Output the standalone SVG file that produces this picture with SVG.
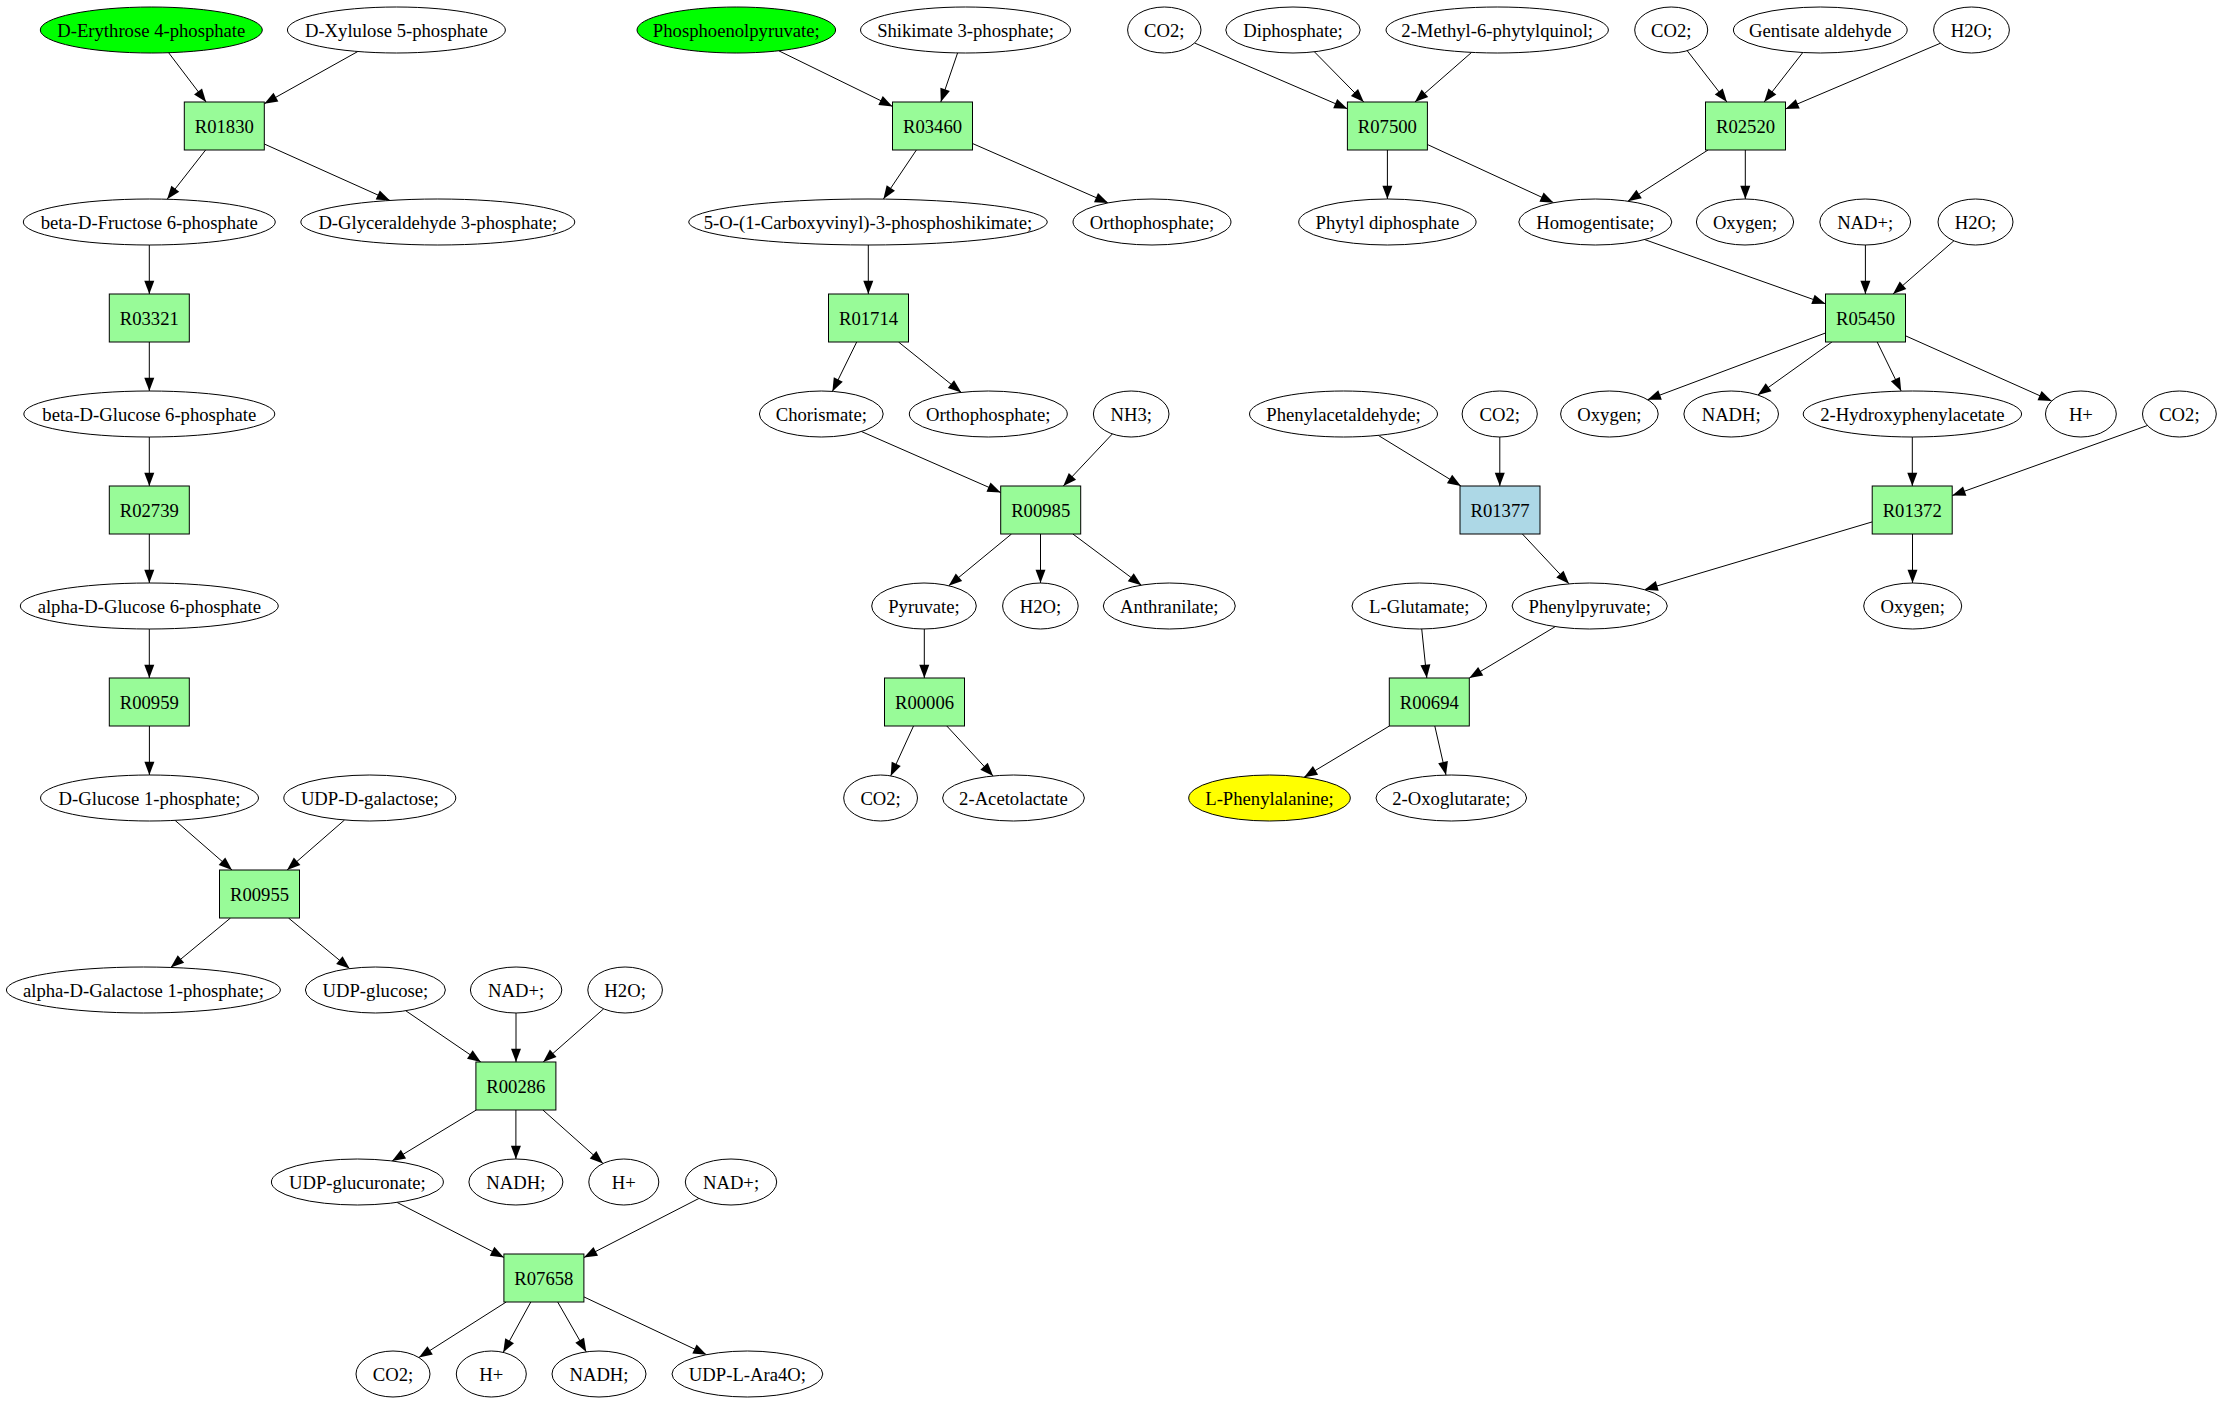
<svg xmlns="http://www.w3.org/2000/svg" width="2221" height="1403" viewBox="0 0 2221 1403">
<style>
text { font-family: "Liberation Serif", "Times New Roman", serif; font-size: 18.67px; text-anchor: middle; fill: #000; }
.m ellipse { fill: #ffffff; stroke: #000; stroke-width: 1; }
.m.start ellipse { fill: #00ff00; }
.m.goal ellipse { fill: #ffff00; }
.r rect { fill: #98fb98; stroke: #000; stroke-width: 1; }
.r.alt rect { fill: #add8e6; }
#edges line { stroke: #000; stroke-width: 1; fill: none; marker-end: url(#arr); }
</style>
<defs>
<marker id="arr" markerUnits="userSpaceOnUse" markerWidth="14" markerHeight="10" refX="13.3" refY="5" orient="auto" overflow="visible">
<path d="M0,0 L13.3,5 L0,10 Z" fill="#000"/>
</marker>
</defs>
<rect x="0" y="0" width="2221" height="1403" fill="#ffffff"/>

<g id="edges">
<line x1="168.6" y1="52.7" x2="206.1" y2="102"/>
<line x1="357.8" y1="51.5" x2="264.3" y2="103.7"/>
<line x1="205.6" y1="150" x2="167.1" y2="199.2"/>
<line x1="264.3" y1="144" x2="389.9" y2="200.4"/>
<line x1="149.3" y1="245" x2="149.3" y2="294"/>
<line x1="149.3" y1="342" x2="149.3" y2="391"/>
<line x1="149.3" y1="437" x2="149.3" y2="486"/>
<line x1="149.3" y1="534" x2="149.3" y2="583"/>
<line x1="149.3" y1="629" x2="149.3" y2="678"/>
<line x1="149.4" y1="726" x2="149.4" y2="775"/>
<line x1="175.1" y1="820.4" x2="232" y2="870"/>
<line x1="344.5" y1="820" x2="287.1" y2="870"/>
<line x1="230.5" y1="918" x2="170.7" y2="967.5"/>
<line x1="288.5" y1="918" x2="349.6" y2="968.6"/>
<line x1="405.7" y1="1010.7" x2="480.8" y2="1062"/>
<line x1="516" y1="1013" x2="516" y2="1062"/>
<line x1="603.7" y1="1008.8" x2="543.2" y2="1062"/>
<line x1="476.3" y1="1110" x2="392.1" y2="1161"/>
<line x1="515.9" y1="1110" x2="515.9" y2="1159"/>
<line x1="542.9" y1="1110" x2="603" y2="1163.5"/>
<line x1="397" y1="1202.4" x2="503.9" y2="1257.4"/>
<line x1="699" y1="1198.4" x2="583.9" y2="1257.5"/>
<line x1="506.2" y1="1302" x2="418.9" y2="1357.5"/>
<line x1="530.8" y1="1302" x2="503.2" y2="1352.4"/>
<line x1="557.7" y1="1302" x2="586.3" y2="1351.9"/>
<line x1="583.9" y1="1296.9" x2="706.5" y2="1354.7"/>

<line x1="778.8" y1="50.8" x2="892.5" y2="106.4"/>
<line x1="957.6" y1="52.9" x2="940.8" y2="102"/>
<line x1="916.4" y1="150" x2="883.4" y2="199.1"/>
<line x1="972.5" y1="143.5" x2="1108.2" y2="202.9"/>
<line x1="868.3" y1="245" x2="868.3" y2="294"/>
<line x1="856.7" y1="342" x2="832.4" y2="391.4"/>
<line x1="898.5" y1="342" x2="961.3" y2="392.4"/>
<line x1="861.4" y1="431.5" x2="1000.7" y2="492.5"/>
<line x1="1112.4" y1="433.9" x2="1063.3" y2="486"/>
<line x1="1011.5" y1="534" x2="948.7" y2="585.7"/>
<line x1="1040.5" y1="534" x2="1040.5" y2="583"/>
<line x1="1072.9" y1="534" x2="1141.4" y2="585.2"/>
<line x1="924.3" y1="629" x2="924.3" y2="678"/>
<line x1="913.5" y1="726" x2="890.7" y2="775.9"/>
<line x1="946.8" y1="726" x2="993.1" y2="776"/>

<line x1="1194.6" y1="43" x2="1347.4" y2="108.8"/>
<line x1="1314.4" y1="51.8" x2="1363.8" y2="102"/>
<line x1="1471.6" y1="52.4" x2="1414.9" y2="102"/>
<line x1="1387.4" y1="150" x2="1387.4" y2="199"/>
<line x1="1427.4" y1="144.5" x2="1553.6" y2="202.7"/>
<line x1="1687.2" y1="50.7" x2="1726.9" y2="102"/>
<line x1="1802.8" y1="52.5" x2="1764.2" y2="102"/>
<line x1="1940.5" y1="43.2" x2="1785.5" y2="109"/>
<line x1="1708" y1="150" x2="1627.9" y2="201.2"/>
<line x1="1745.3" y1="150" x2="1745.3" y2="199"/>
<line x1="1644.7" y1="239.6" x2="1825.5" y2="303.8"/>
<line x1="1865.4" y1="245" x2="1865.4" y2="294"/>
<line x1="1953.9" y1="240.8" x2="1893" y2="294"/>
<line x1="1825.5" y1="333" x2="1647.6" y2="399.7"/>
<line x1="1831.9" y1="342" x2="1757.8" y2="395"/>
<line x1="1877.2" y1="342" x2="1901.2" y2="391.1"/>
<line x1="1905.5" y1="335.8" x2="2051.7" y2="401"/>
<line x1="1378.3" y1="435.4" x2="1460.9" y2="486"/>
<line x1="1499.8" y1="437" x2="1499.8" y2="486"/>
<line x1="1912.3" y1="437" x2="1912.3" y2="486"/>
<line x1="2147.4" y1="425.5" x2="1952.2" y2="495.6"/>
<line x1="1522.4" y1="534" x2="1569" y2="583.8"/>
<line x1="1872.2" y1="521.9" x2="1644.5" y2="589.7"/>
<line x1="1912.5" y1="534" x2="1912.5" y2="583"/>
<line x1="1421.7" y1="628.7" x2="1426.8" y2="678"/>
<line x1="1555.3" y1="626.6" x2="1469.3" y2="678.1"/>
<line x1="1389.4" y1="726" x2="1304.1" y2="777.2"/>
<line x1="1434.8" y1="726" x2="1446" y2="775.1"/>
</g>

<g id="n_D_Erythrose_4_phosphate" class="m start"><ellipse cx="151.3" cy="30" rx="111" ry="23"/><text x="151.3" y="36.5">D-Erythrose 4-phosphate</text></g>
<g id="n_D_Xylulose_5_phosphate" class="m"><ellipse cx="396.4" cy="30" rx="109" ry="23"/><text x="396.4" y="36.5">D-Xylulose 5-phosphate</text></g>
<g id="n_R01830" class="r"><rect x="184.3" y="102" width="80" height="48"/><text x="224.3" y="132.5">R01830</text></g>
<g id="n_beta_D_Fructose_6_phosphate" class="m"><ellipse cx="149.3" cy="222" rx="126" ry="23"/><text x="149.3" y="228.5">beta-D-Fructose 6-phosphate</text></g>
<g id="n_D_Glyceraldehyde_3_phosphate" class="m"><ellipse cx="437.8" cy="222" rx="137" ry="23"/><text x="437.8" y="228.5">D-Glyceraldehyde 3-phosphate;</text></g>
<g id="n_R03321" class="r"><rect x="109.3" y="294" width="80" height="48"/><text x="149.3" y="324.5">R03321</text></g>
<g id="n_beta_D_Glucose_6_phosphate" class="m"><ellipse cx="149.3" cy="414" rx="125.5" ry="23"/><text x="149.3" y="420.5">beta-D-Glucose 6-phosphate</text></g>
<g id="n_R02739" class="r"><rect x="109.3" y="486" width="80" height="48"/><text x="149.3" y="516.5">R02739</text></g>
<g id="n_alpha_D_Glucose_6_phosphate" class="m"><ellipse cx="149.3" cy="606" rx="129" ry="23"/><text x="149.3" y="612.5">alpha-D-Glucose 6-phosphate</text></g>
<g id="n_R00959" class="r"><rect x="109.3" y="678" width="80" height="48"/><text x="149.3" y="708.5">R00959</text></g>
<g id="n_D_Glucose_1_phosphate" class="m"><ellipse cx="149.5" cy="798" rx="109" ry="23"/><text x="149.5" y="804.5">D-Glucose 1-phosphate;</text></g>
<g id="n_UDP_D_galactose" class="m"><ellipse cx="369.8" cy="798" rx="86" ry="23"/><text x="369.8" y="804.5">UDP-D-galactose;</text></g>
<g id="n_R00955" class="r"><rect x="219.5" y="870" width="80" height="48"/><text x="259.5" y="900.5">R00955</text></g>
<g id="n_alpha_D_Galactose_1_phosphate" class="m"><ellipse cx="143.4" cy="990" rx="137" ry="23"/><text x="143.4" y="996.5">alpha-D-Galactose 1-phosphate;</text></g>
<g id="n_UDP_glucose" class="m"><ellipse cx="375.4" cy="990" rx="70" ry="23"/><text x="375.4" y="996.5">UDP-glucose;</text></g>
<g id="n_NADp_1" class="m"><ellipse cx="516.1" cy="990" rx="45.7" ry="23"/><text x="516.1" y="996.5">NAD+;</text></g>
<g id="n_H2O_1" class="m"><ellipse cx="625.1" cy="990" rx="37.3" ry="23"/><text x="625.1" y="996.5">H2O;</text></g>
<g id="n_R00286" class="r"><rect x="475.9" y="1062" width="80" height="48"/><text x="515.9" y="1092.5">R00286</text></g>
<g id="n_UDP_glucuronate" class="m"><ellipse cx="357.4" cy="1182" rx="86" ry="23"/><text x="357.4" y="1188.5">UDP-glucuronate;</text></g>
<g id="n_NADH_1" class="m"><ellipse cx="515.9" cy="1182" rx="47" ry="23"/><text x="515.9" y="1188.5">NADH;</text></g>
<g id="n_Hp_1" class="m"><ellipse cx="623.8" cy="1182" rx="35" ry="23"/><text x="623.8" y="1188.5">H+</text></g>
<g id="n_NADp_2" class="m"><ellipse cx="731" cy="1182" rx="45.7" ry="23"/><text x="731" y="1188.5">NAD+;</text></g>
<g id="n_R07658" class="r"><rect x="503.9" y="1254" width="80" height="48"/><text x="543.9" y="1284.5">R07658</text></g>
<g id="n_CO2_1" class="m"><ellipse cx="393" cy="1374" rx="37" ry="23"/><text x="393" y="1380.5">CO2;</text></g>
<g id="n_Hp_2" class="m"><ellipse cx="491.3" cy="1374" rx="35" ry="23"/><text x="491.3" y="1380.5">H+</text></g>
<g id="n_NADH_2" class="m"><ellipse cx="599" cy="1374" rx="47" ry="23"/><text x="599" y="1380.5">NADH;</text></g>
<g id="n_UDP_L_Ara4O" class="m"><ellipse cx="747.4" cy="1374" rx="75.4" ry="23"/><text x="747.4" y="1380.5">UDP-L-Ara4O;</text></g>

<g id="n_Phosphoenolpyruvate" class="m start"><ellipse cx="736.3" cy="30" rx="99.3" ry="23"/><text x="736.3" y="36.5">Phosphoenolpyruvate;</text></g>
<g id="n_Shikimate_3_phosphate" class="m"><ellipse cx="965.5" cy="30" rx="105" ry="23"/><text x="965.5" y="36.5">Shikimate 3-phosphate;</text></g>
<g id="n_R03460" class="r"><rect x="892.5" y="102" width="80" height="48"/><text x="932.5" y="132.5">R03460</text></g>
<g id="n_5_O_1_Carboxyvinyl_3_phosphoshikimate" class="m"><ellipse cx="868" cy="222" rx="179.3" ry="23"/><text x="868" y="228.5">5-O-(1-Carboxyvinyl)-3-phosphoshikimate;</text></g>
<g id="n_Orthophosphate_1" class="m"><ellipse cx="1152" cy="222" rx="79" ry="23"/><text x="1152" y="228.5">Orthophosphate;</text></g>
<g id="n_R01714" class="r"><rect x="828.5" y="294" width="80" height="48"/><text x="868.5" y="324.5">R01714</text></g>
<g id="n_Chorismate" class="m"><ellipse cx="821.3" cy="414" rx="61.9" ry="23"/><text x="821.3" y="420.5">Chorismate;</text></g>
<g id="n_Orthophosphate_2" class="m"><ellipse cx="988.3" cy="414" rx="79" ry="23"/><text x="988.3" y="420.5">Orthophosphate;</text></g>
<g id="n_NH3" class="m"><ellipse cx="1131.2" cy="414" rx="37.8" ry="23"/><text x="1131.2" y="420.5">NH3;</text></g>
<g id="n_R00985" class="r"><rect x="1000.7" y="486" width="80" height="48"/><text x="1040.7" y="516.5">R00985</text></g>
<g id="n_Pyruvate" class="m"><ellipse cx="924" cy="606" rx="52.3" ry="23"/><text x="924" y="612.5">Pyruvate;</text></g>
<g id="n_H2O_2" class="m"><ellipse cx="1040.4" cy="606" rx="37.8" ry="23"/><text x="1040.4" y="612.5">H2O;</text></g>
<g id="n_Anthranilate" class="m"><ellipse cx="1169.3" cy="606" rx="66" ry="23"/><text x="1169.3" y="612.5">Anthranilate;</text></g>
<g id="n_R00006" class="r"><rect x="884.5" y="678" width="80" height="48"/><text x="924.5" y="708.5">R00006</text></g>
<g id="n_CO2_2" class="m"><ellipse cx="880.6" cy="798" rx="36.9" ry="23"/><text x="880.6" y="804.5">CO2;</text></g>
<g id="n_2_Acetolactate" class="m"><ellipse cx="1013.5" cy="798" rx="70.9" ry="23"/><text x="1013.5" y="804.5">2-Acetolactate</text></g>

<g id="n_CO2_3" class="m"><ellipse cx="1164.3" cy="30" rx="36.7" ry="23"/><text x="1164.3" y="36.5">CO2;</text></g>
<g id="n_Diphosphate" class="m"><ellipse cx="1293" cy="30" rx="67.2" ry="23"/><text x="1293" y="36.5">Diphosphate;</text></g>
<g id="n_2_Methyl_6_phytylquinol" class="m"><ellipse cx="1497.2" cy="30" rx="111.2" ry="23"/><text x="1497.2" y="36.5">2-Methyl-6-phytylquinol;</text></g>
<g id="n_CO2_4" class="m"><ellipse cx="1671.2" cy="30" rx="36.5" ry="23"/><text x="1671.2" y="36.5">CO2;</text></g>
<g id="n_Gentisate_aldehyde" class="m"><ellipse cx="1820.3" cy="30" rx="86.9" ry="23"/><text x="1820.3" y="36.5">Gentisate aldehyde</text></g>
<g id="n_H2O_3" class="m"><ellipse cx="1971.5" cy="30" rx="37.9" ry="23"/><text x="1971.5" y="36.5">H2O;</text></g>
<g id="n_R07500" class="r"><rect x="1347.4" y="102" width="80" height="48"/><text x="1387.4" y="132.5">R07500</text></g>
<g id="n_R02520" class="r"><rect x="1705.5" y="102" width="80" height="48"/><text x="1745.5" y="132.5">R02520</text></g>
<g id="n_Phytyl_diphosphate" class="m"><ellipse cx="1387.4" cy="222" rx="88.7" ry="23"/><text x="1387.4" y="228.5">Phytyl diphosphate</text></g>
<g id="n_Homogentisate" class="m"><ellipse cx="1595.3" cy="222" rx="76.5" ry="23"/><text x="1595.3" y="228.5">Homogentisate;</text></g>
<g id="n_Oxygen_1" class="m"><ellipse cx="1745" cy="222" rx="48.6" ry="23"/><text x="1745" y="228.5">Oxygen;</text></g>
<g id="n_NADp_3" class="m"><ellipse cx="1865.2" cy="222" rx="45.4" ry="23"/><text x="1865.2" y="228.5">NAD+;</text></g>
<g id="n_H2O_4" class="m"><ellipse cx="1975.5" cy="222" rx="37.5" ry="23"/><text x="1975.5" y="228.5">H2O;</text></g>
<g id="n_R05450" class="r"><rect x="1825.5" y="294" width="80" height="48"/><text x="1865.5" y="324.5">R05450</text></g>
<g id="n_Phenylacetaldehyde" class="m"><ellipse cx="1343.5" cy="414" rx="94" ry="23"/><text x="1343.5" y="420.5">Phenylacetaldehyde;</text></g>
<g id="n_CO2_5" class="m"><ellipse cx="1499.7" cy="414" rx="37.6" ry="23"/><text x="1499.7" y="420.5">CO2;</text></g>
<g id="n_Oxygen_2" class="m"><ellipse cx="1609.4" cy="414" rx="48.8" ry="23"/><text x="1609.4" y="420.5">Oxygen;</text></g>
<g id="n_NADH_3" class="m"><ellipse cx="1731.2" cy="414" rx="47.3" ry="23"/><text x="1731.2" y="420.5">NADH;</text></g>
<g id="n_2_Hydroxyphenylacetate" class="m"><ellipse cx="1912.4" cy="414" rx="109.2" ry="23"/><text x="1912.4" y="420.5">2-Hydroxyphenylacetate</text></g>
<g id="n_Hp_3" class="m"><ellipse cx="2080.9" cy="414" rx="35.4" ry="23"/><text x="2080.9" y="420.5">H+</text></g>
<g id="n_CO2_6" class="m"><ellipse cx="2179.4" cy="414" rx="36.9" ry="23"/><text x="2179.4" y="420.5">CO2;</text></g>
<g id="n_R01377" class="r alt"><rect x="1460" y="486" width="80" height="48"/><text x="1500" y="516.5">R01377</text></g>
<g id="n_R01372" class="r"><rect x="1872.2" y="486" width="80" height="48"/><text x="1912.2" y="516.5">R01372</text></g>
<g id="n_L_Glutamate" class="m"><ellipse cx="1419.3" cy="606" rx="67.3" ry="23"/><text x="1419.3" y="612.5">L-Glutamate;</text></g>
<g id="n_Phenylpyruvate" class="m"><ellipse cx="1589.7" cy="606" rx="77.6" ry="23"/><text x="1589.7" y="612.5">Phenylpyruvate;</text></g>
<g id="n_Oxygen_3" class="m"><ellipse cx="1912.7" cy="606" rx="49" ry="23"/><text x="1912.7" y="612.5">Oxygen;</text></g>
<g id="n_R00694" class="r"><rect x="1389.3" y="678" width="80" height="48"/><text x="1429.3" y="708.5">R00694</text></g>
<g id="n_L_Phenylalanine" class="m goal"><ellipse cx="1269.5" cy="798" rx="80.8" ry="23"/><text x="1269.5" y="804.5">L-Phenylalanine;</text></g>
<g id="n_2_Oxoglutarate" class="m"><ellipse cx="1451.3" cy="798" rx="75.3" ry="23"/><text x="1451.3" y="804.5">2-Oxoglutarate;</text></g>
</svg>
